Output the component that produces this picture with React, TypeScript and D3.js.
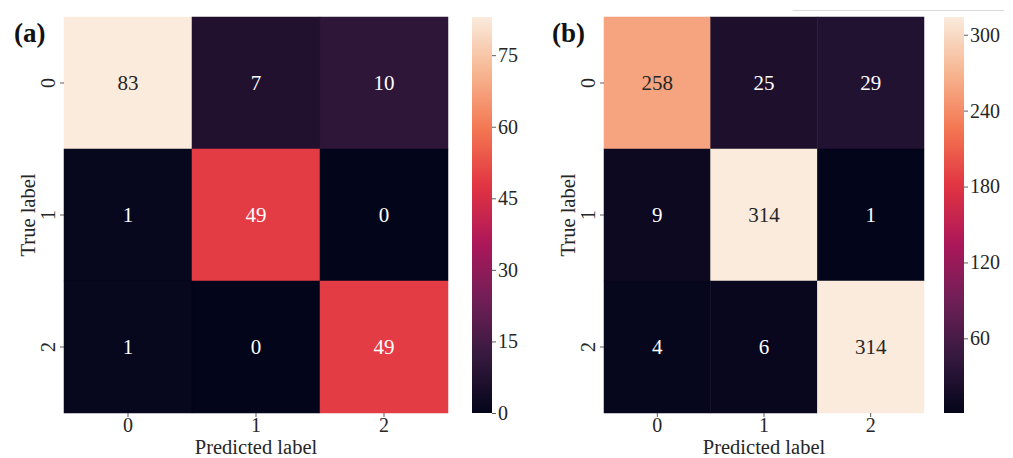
import React, { useRef, useEffect } from 'react';
import * as d3 from 'd3';

const classLabels = ['0', '1', '2'];

const matrixA = [
  [83, 7, 10],
  [1, 49, 0],
  [1, 0, 49],
];

const matrixB = [
  [258, 25, 29],
  [9, 314, 1],
  [4, 6, 314],
];

const ticksA = [0, 15, 30, 45, 60, 75];
const ticksB = [60, 120, 180, 240, 300];

// seaborn "rocket" sampled
const rocket = ['#03051a', '#35193e', '#701f57', '#ad1759', '#e13342', '#f37651', '#f6b48f', '#faebdd'];
const rocketStops = [0, 1 / 7, 2 / 7, 3 / 7, 4 / 7, 5 / 7, 6 / 7, 1];

const rocketScale = d3.scaleLinear<string>().domain(rocketStops).range(rocket).interpolate(d3.interpolateRgb);

const FONT = '"Liberation Serif", "Times New Roman", serif';

const panels = [
  { id: 'a', title: '(a)', data: matrixA, ticks: ticksA, x0: 64, x1: 448, cbX: 472, titleX: 14, ylabX: 35, ytickX: 55 },
  { id: 'b', title: '(b)', data: matrixB, ticks: ticksB, x0: 604, x1: 924, cbX: 944, titleX: 552, ylabX: 575, ytickX: 595 },
];

const App = () => {
  const chartRef = useRef<SVGSVGElement>(null);

  useEffect(() => {
    const svg = d3.select(chartRef.current);
    svg.selectAll('*').remove();

    const top = 17;
    const bottom = 413;

    // stray rule top right
    svg.append('line')
      .attr('x1', 793).attr('x2', 1004).attr('y1', 10.5).attr('y2', 10.5)
      .attr('stroke', '#d9d9d9').attr('stroke-width', 1);

    const defs = svg.append('defs');

    panels.forEach((p) => {
      const flat = p.data.flat();
      const vmin = d3.min(flat) as number;
      const vmax = d3.max(flat) as number;
      const norm = d3.scaleLinear().domain([vmin, vmax]).range([0, 1]).clamp(true);
      const color = (v: number) => rocketScale(norm(v));

      const x = d3.scaleBand().domain(classLabels).range([p.x0, p.x1]);
      const y = d3.scaleBand().domain(classLabels).range([top, bottom]);

      const g = svg.append('g');

      const cells = p.data.flatMap((row, i) => row.map((v, j) => ({ v, r: classLabels[i], c: classLabels[j] })));

      g.selectAll('rect.cell')
        .data(cells)
        .join('rect')
        .attr('class', 'cell')
        .attr('x', (d) => x(d.c)!)
        .attr('y', (d) => y(d.r)!)
        .attr('width', x.bandwidth())
        .attr('height', y.bandwidth())
        .attr('fill', (d) => color(d.v))
        .attr('stroke', (d) => color(d.v))
        .attr('stroke-width', 0.5);

      g.selectAll('text.ann')
        .data(cells)
        .join('text')
        .attr('class', 'ann')
        .attr('x', (d) => x(d.c)! + x.bandwidth() / 2)
        .attr('y', (d) => y(d.r)! + y.bandwidth() / 2)
        .attr('text-anchor', 'middle')
        .attr('dominant-baseline', 'central')
        .attr('font-family', FONT)
        .attr('font-size', 21)
        .attr('fill', (d) => {
          const c = d3.rgb(color(d.v));
          const lum = 0.2126 * c.r + 0.7152 * c.g + 0.0722 * c.b;
          return lum / 255 > 0.45 ? '#262626' : '#ffffff';
        })
        .text((d) => d.v);

      // x ticks
      classLabels.forEach((lab) => {
        const cx = x(lab)! + x.bandwidth() / 2;
        g.append('line').attr('x1', cx).attr('x2', cx).attr('y1', bottom).attr('y2', bottom + 4)
          .attr('stroke', '#333').attr('stroke-width', 0.8);
        g.append('text').attr('x', cx).attr('y', 432).attr('text-anchor', 'middle')
          .attr('font-family', FONT).attr('font-size', 20).attr('fill', '#262626').text(lab);

        const cy = y(lab)! + y.bandwidth() / 2;
        g.append('line').attr('x1', p.x0 - 4).attr('x2', p.x0).attr('y1', cy).attr('y2', cy)
          .attr('stroke', '#333').attr('stroke-width', 0.8);
        g.append('text')
          .attr('transform', `translate(${p.ytickX},${cy}) rotate(-90)`)
          .attr('text-anchor', 'middle')
          .attr('font-family', FONT).attr('font-size', 20).attr('fill', '#262626').text(lab);
      });

      g.append('text')
        .attr('x', (p.x0 + p.x1) / 2).attr('y', 454).attr('text-anchor', 'middle')
        .attr('font-family', FONT).attr('font-size', 20.5).attr('fill', '#262626')
        .text('Predicted label');

      g.append('text')
        .attr('transform', `translate(${p.ylabX},${(top + bottom) / 2}) rotate(-90)`)
        .attr('text-anchor', 'middle')
        .attr('font-family', FONT).attr('font-size', 20.5).attr('fill', '#262626')
        .text('True label');

      g.append('text')
        .attr('x', p.titleX).attr('y', 42)
        .attr('font-family', FONT).attr('font-size', 27).attr('font-weight', 'bold').attr('fill', '#111')
        .text(p.title);

      // colorbar
      const gradId = `grad-${p.id}`;
      const grad = defs.append('linearGradient').attr('id', gradId)
        .attr('x1', 0).attr('x2', 0).attr('y1', 1).attr('y2', 0);
      d3.range(0, 1.0001, 0.02).forEach((t) => {
        grad.append('stop').attr('offset', t).attr('stop-color', rocketScale(t));
      });

      const cbW = 20;
      g.append('rect').attr('x', p.cbX).attr('y', top).attr('width', cbW).attr('height', bottom - top)
        .attr('fill', `url(#${gradId})`);

      const cbScale = d3.scaleLinear().domain([vmin, vmax]).range([bottom, top]);
      const axis = d3.axisRight(cbScale).tickValues(p.ticks).tickSize(4).tickPadding(2).tickFormat(d3.format('d'));
      const ag = g.append('g').attr('transform', `translate(${p.cbX + cbW},0)`).call(axis);
      ag.select('.domain').remove();
      ag.selectAll('line').attr('stroke', '#333').attr('stroke-width', 0.8);
      ag.selectAll('text').attr('font-family', FONT).attr('font-size', 20).attr('fill', '#262626');
    });
  });

  return (
    <div id='cm-chart'>
      <svg ref={chartRef} width={1013} height={458}
        style={{ position: 'absolute', left: 0, top: 0, background: '#ffffff' }}></svg>
    </div>
  );
};

export default App;
